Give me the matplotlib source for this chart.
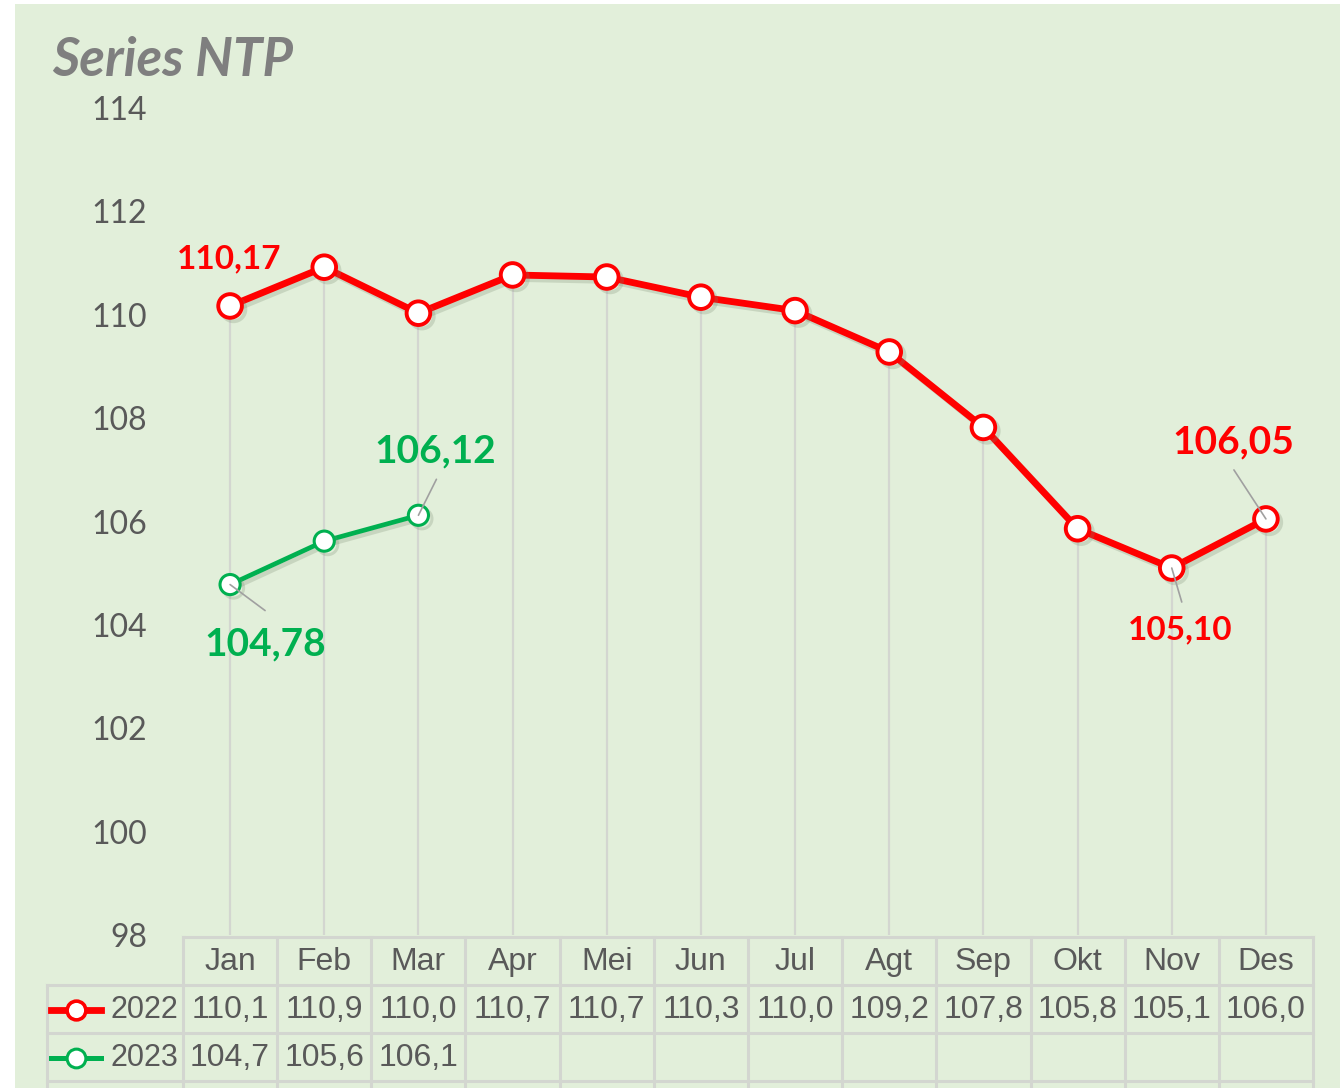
import matplotlib
matplotlib.use('Agg')
import matplotlib.pyplot as plt
from matplotlib import transforms, font_manager
from matplotlib.lines import Line2D
from matplotlib.patches import Rectangle
import matplotlib.patheffects as pe

# ---------------- data ----------------
months = ['Jan', 'Feb', 'Mar', 'Apr', 'Mei', 'Jun', 'Jul', 'Agt', 'Sep', 'Okt', 'Nov', 'Des']
ntp_2022 = [110.17, 110.92, 110.03, 110.77, 110.73, 110.34, 110.08, 109.28, 107.82, 105.86, 105.10, 106.05]
ntp_2023 = [104.78, 105.62, 106.12]
table_2022 = ['110,1', '110,9', '110,0', '110,7', '110,7', '110,3', '110,0', '109,2', '107,8', '105,8', '105,1', '106,0']
table_2023 = ['104,7', '105,6', '106,1']
series_names = ['2022', '2023']
yticks = [98, 100, 102, 104, 106, 108, 110, 112, 114]
title = 'Series NTP'

# ---------------- style ----------------
W, H = 1340, 1088
BG = '#E2EFDA'
RED = '#FF0000'
GREEN = '#00B050'
GRID = '#D3D6D0'
TXT = '#595959'

names = {f.name for f in font_manager.fontManager.ttflist}
NARROW = 'Liberation Sans Narrow' if 'Liberation Sans Narrow' in names else 'Liberation Sans'
MAIN = 'Lato' if 'Lato' in names else 'DejaVu Sans'

fig = plt.figure(figsize=(W / 100, H / 100), dpi=100)
fig.patch.set_facecolor('white')
px = transforms.Affine2D().scale(1 / W, -1 / H).translate(0, 1) + fig.transFigure

fig.add_artist(Rectangle((15, 4), W - 15, H - 4, transform=px, facecolor=BG, edgecolor='none', zorder=0))

# plot area: x from 183 to 1313, y from 108 (114) to 935 (98)
ax = fig.add_axes([183 / W, 1 - 935 / H, (1313 - 183) / W, (935 - 108) / H])
ax.set_facecolor('none')
ax.set_xlim(-0.5, 11.5)
ax.set_ylim(98, 114)
for s in ax.spines.values():
    s.set_visible(False)
ax.set_xticks([])
ax.set_yticks(yticks)
ax.set_yticklabels([str(t) for t in yticks], fontsize=23, color=TXT, family=MAIN)
ax.tick_params(axis='y', length=0, pad=26)

x22 = list(range(len(ntp_2022)))
x23 = list(range(len(ntp_2023)))

# drop lines
tops = [max(ntp_2022[i], ntp_2023[i]) if i < len(ntp_2023) else ntp_2022[i] for i in x22]
ax.vlines(x22, 98, tops, color=GRID, lw=1.6, zorder=1)

shadow = [pe.SimpleLineShadow(offset=(2.5, -2.5), shadow_color='#7a8a70', alpha=0.25), pe.Normal()]
ax.plot(x22, ntp_2022, color=RED, lw=4.9, marker='o', ms=17, mfc='white', mec=RED, mew=2.8,
        zorder=4, path_effects=shadow, clip_on=False)
ax.plot(x23, ntp_2023, color=GREEN, lw=3.4, marker='o', ms=14.5, mfc='white', mec=GREEN, mew=2.2,
        zorder=4, path_effects=shadow, clip_on=False)

# data labels: (values, index, text, color, size, text offset px, leader end offset px or None)
labels = [
    (ntp_2022, 0, '110,17', RED, 24, (-1, 47), None),
    (ntp_2022, 11, '106,05', RED, 28, (-33, 77), (-32, 49)),
    (ntp_2022, 10, '105,10', RED, 24, (8, -62), (10, -34)),
    (ntp_2023, 2, '106,12', GREEN, 28, (17, 64), (18, 36)),
    (ntp_2023, 0, '104,78', GREEN, 28, (35, -59), (35, -26)),
]
for vals, i, txt, col, size, toff, loff in labels:
    if loff is not None:
        ax.annotate('', xy=(i, vals[i]), xytext=loff, textcoords='offset pixels',
                    arrowprops=dict(arrowstyle='-', color='#A0A0A0', lw=1.2, shrinkA=0, shrinkB=0),
                    zorder=5, annotation_clip=False)
    ax.annotate(txt, xy=(i, vals[i]), xytext=toff, textcoords='offset pixels',
                ha='center', va='center', fontsize=size, fontweight='bold', color=col,
                family=MAIN, zorder=6, annotation_clip=False)

# title
fig.text(52 / W, 1 - 60 / H, title, fontsize=38, fontweight='bold', fontstyle='italic',
         color='#7F7F7F', family=MAIN, ha='left', va='center')

# ---------------- data table ----------------
tb = transforms.blended_transform_factory(ax.transData, px)
TLW = 2.2
# horizontal lines
fig.add_artist(Line2D([-0.5, 11.5], [937, 937], transform=tb, color=GRID, lw=TLW, zorder=2))
for y in [985, 1033, 1081]:
    fig.add_artist(Line2D([47, 1313], [y, y], transform=px, color=GRID, lw=TLW, zorder=2))
# vertical lines
for k in range(len(months) + 1):
    xb = k - 0.5
    fig.add_artist(Line2D([xb, xb], [937, H], transform=tb, color=GRID, lw=TLW, zorder=2))
fig.add_artist(Line2D([47, 47], [985, H], transform=px, color=GRID, lw=TLW, zorder=2))

TFS = 23
for i, m in enumerate(months):
    fig.text(i, 962, m, transform=tb, ha='center', va='center', fontsize=TFS, color=TXT, family=NARROW)
for i, t in enumerate(table_2022):
    fig.text(i, 1010, t, transform=tb, ha='center', va='center', fontsize=TFS, color=TXT, family=NARROW)
for i, t in enumerate(table_2023):
    fig.text(i, 1058, t, transform=tb, ha='center', va='center', fontsize=TFS, color=TXT, family=NARROW)

# legend keys in table
for yrow, col, lw, ms, mew, name in [(1010, RED, 4.9, 13.5, 2.6, series_names[0]),
                                     (1058, GREEN, 3.6, 13.5, 2.2, series_names[1])]:
    fig.add_artist(Line2D([51, 101], [yrow, yrow], transform=px, color=col, lw=lw, zorder=3))
    fig.add_artist(Line2D([76], [yrow], transform=px, color=col, marker='o', ms=ms, mfc='white',
                          mec=col, mew=mew, zorder=4))
    fig.text(178, yrow, name, transform=px, ha='right', va='center', fontsize=22, color=TXT, family=NARROW)

fig.savefig('out.png', dpi=100, facecolor=fig.get_facecolor())
